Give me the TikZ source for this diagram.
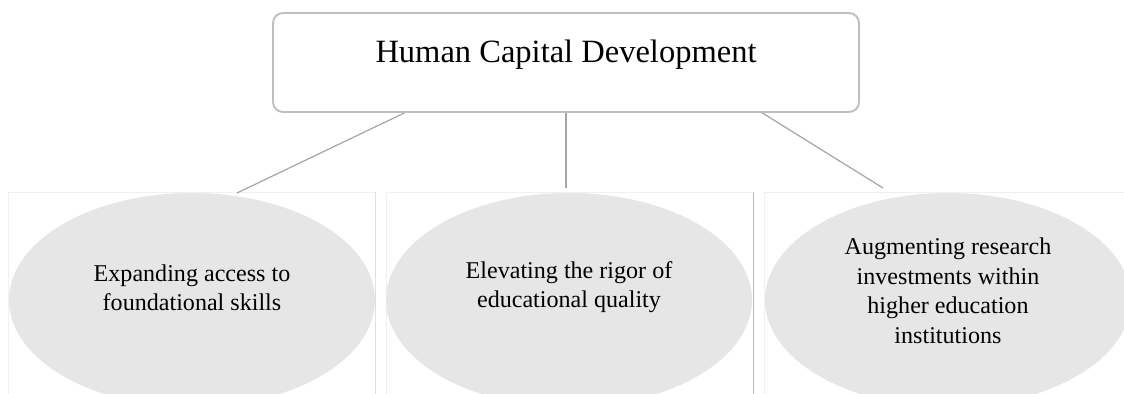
\documentclass[tikz,border=0pt]{standalone}
\usepackage{fontspec}
\setmainfont{Liberation Serif}
\usetikzlibrary{shapes.geometric, calc}
\definecolor{FrameGray}{RGB}{191,191,191}
\definecolor{LinkGray}{RGB}{166,166,166}
\definecolor{GoalFill}{RGB}{230,230,230}
\definecolor{PanelGray}{RGB}{240,240,240}
\definecolor{PanelEdge}{RGB}{185,185,185}
\tikzset{
  rootbox/.style={draw=FrameGray, line width=1.1pt, rounded corners=0.2cm, fill=white,
    minimum width=11.72cm, minimum height=1.98cm, text height=0.45cm, text depth=0.45cm,
    font=\fontsize{18.5}{22}\selectfont, inner sep=0pt},
  goal/.style={ellipse, fill=GoalFill, draw=none, minimum width=7.32cm, minimum height=4.28cm,
    inner sep=0pt},
  goaltext/.style={align=center, font=\fontsize{13.7}{16.8}\selectfont, inner sep=0pt},
  link/.style={draw=LinkGray, line width=0.7pt},
  panel/.style={draw=PanelGray, line width=0.5pt},
}

\begin{document}
\begin{tikzpicture}
  \clip (0,0) rectangle (22.48,7.88);
  \fill[white] (0,0) rectangle (22.48,7.88);

  % light frames behind the three goals
  \draw[panel] (0.16,-0.1) |- (7.5,4.04);
  \draw[panel, draw=PanelGray!70!PanelEdge] (7.5,4.04) -- (7.5,-0.1);
  \draw[panel] (7.72,-0.1) |- (15.06,4.04);
  \draw[panel, draw=PanelEdge] (15.06,4.04) -- (15.06,-0.1);
  \draw[panel] (15.28,-0.1) |- (22.7,4.04);

  \node[rootbox] (hcd) at (11.32,6.63) {Human Capital Development};

  \node[goal] (access) at (3.84,1.88) {};
  \node[goal] (quality) at (11.38,1.88) {};
  \node[goal] (research) at (18.96,1.88) {};
  \node[goaltext] (accesstxt) at (3.84,2.12) {Expanding access to\\foundational skills};
  \node[goaltext] (qualitytxt) at (11.38,2.14) {Elevating the rigor of\\educational quality};
  \node[goaltext] (researchtxt) at (18.96,2.06) {Augmenting research\\investments within\\higher education\\institutions};

  \coordinate (accesstop) at (4.74,4.02);
  \coordinate (qualitytop) at (11.32,4.12);
  \coordinate (researchtop) at (17.66,4.12);
  \draw[link] ($(hcd.south west)!0.225!(hcd.south east)$) -- (accesstop);
  \draw[link] (hcd.south) -- (qualitytop);
  \draw[link] ($(hcd.south west)!0.834!(hcd.south east)$) -- (researchtop);
\end{tikzpicture}
\end{document}
